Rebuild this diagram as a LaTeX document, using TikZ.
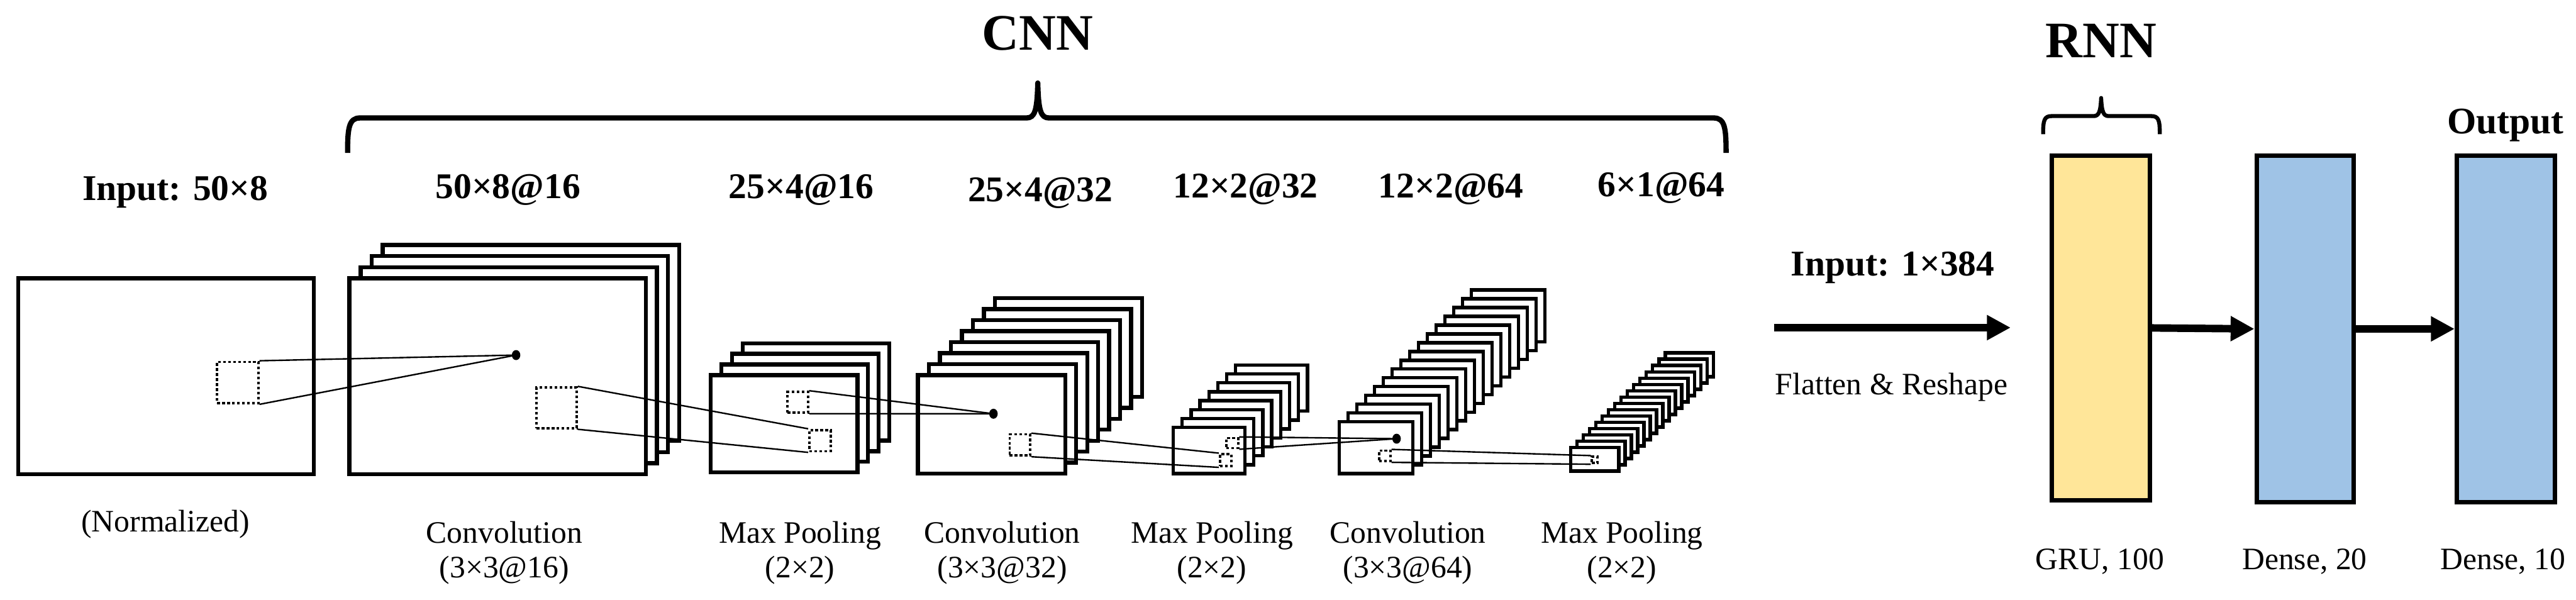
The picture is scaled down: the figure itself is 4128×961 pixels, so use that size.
\documentclass[tikz,border=0pt]{standalone}
\usepackage{fontspec}
\setmainfont{Liberation Serif}
\newfontfamily\tnr{Liberation Serif}
\usetikzlibrary{fit,arrows.meta,calc}
\definecolor{gruyellow}{RGB}{255,230,153}
\definecolor{denseblue}{RGB}{159,195,230}
\tikzset{
  layer/.style={draw=black, fill=white, line width=1.6pt, inner sep=0pt},
  slayer/.style={draw=black, fill=white, line width=1.35pt, inner sep=0pt},
  dbox/.style={draw=black, line width=0.95pt, dash pattern=on 1.1pt off 0.9pt, inner sep=0pt},
  dotnode/.style={ellipse, fill=black, inner sep=0pt, minimum width=3.4pt, minimum height=4pt},
  conn/.style={draw=black, line width=0.6pt},
  bigarrow/.style={line width=3pt, -{Triangle[length=9.5pt,width=9.5pt]}},
  bracestyle/.style={line width=2.1pt, line cap=butt, line join=round},
  rbracestyle/.style={line width=1.6pt, line cap=butt, line join=round},
  titlelab/.style={font=\tnr\fontsize{20.5}{24}\selectfont\bfseries, anchor=base, inner sep=0pt},
  boldlab/.style={font=\tnr\fontsize{14.5}{17}\selectfont\bfseries, anchor=base, inner sep=0pt},
  lab/.style={font=\tnr\fontsize{12.5}{14}\selectfont, align=center, anchor=base, inner sep=0pt},
  rnnbox/.style={draw=black, line width=1.75pt, inner sep=0pt}
}
\usetikzlibrary{shapes.geometric}
% name, x1, y1, x2, y2, (layers-1), offset, style
\newcommand{\fmstack}[8]{%
  \foreach \k in {#6,...,1}{%
    \draw[#8] ({#2+\k*#7},{#3-\k*#7}) rectangle ({#4+\k*#7},{#5-\k*#7});
  }
  \node[#8, fit={(#2,#3) (#4,#5)}] (#1) {};
}
\begin{document}
\begin{tikzpicture}[x=0.25pt, y=-0.25pt]
\useasboundingbox (0,0) rectangle (4128,961);
\fill[white] (0,0) rectangle (4128,961);

% ---------------- CNN feature maps ----------------
\node[layer, fit={(29,446) (503,760)}] (input) {};
\fmstack{conv1}{560}{446}{1035}{760}{3}{17.8}{layer}
\fmstack{pool1}{1139}{601}{1374}{757}{3}{17}{layer}
\fmstack{conv2}{1471}{601}{1707}{759}{7}{17.6}{layer}
\fmstack{pool2}{1880}{685}{1995}{759}{7}{14.3}{slayer}
\fmstack{conv3}{2146}{676}{2264}{759}{15}{14.1}{slayer}
\fmstack{pool3}{2517}{717}{2594}{755}{15}{10.1}{slayer}

% receptive fields (dashed) and target points
\node[dbox, fit={(348,580) (414,646)}] (ib) {};
\node[dotnode] (d1) at (827,569) {};
\node[dbox, fit={(860,621) (924,686)}] (c1b) {};
\node[dbox, fit={(1262,628) (1295,661)}] (p1a) {};
\node[dbox, fit={(1297,689) (1331,723)}] (p1b) {};
\node[dotnode] (d2) at (1592,663) {};
\node[dbox, fit={(1618,696) (1651,730)}] (c2b) {};
\node[dbox, fit={(1965,702) (1984,718)}] (p2a) {};
\node[dbox, fit={(1955,728) (1973,747)}] (p2b) {};
\node[dotnode] (d3) at (2238,703) {};
\node[dbox, fit={(2210,722) (2228,739)}] (c3b) {};
\node[dbox, fit={(2551,732) (2560,742)}] (p3b) {};

% connectors
\draw[conn] (ib.north east) -- (d1.center);
\draw[conn] (ib.south east) -- (d1.center);
\draw[conn] (c1b.north east) -- (p1b.north west);
\draw[conn] (c1b.south east) -- (p1b.south west);
\draw[conn] (p1a.north east) -- (d2.center);
\draw[conn] (p1a.south east) -- (d2.center);
\draw[conn] (c2b.north east) -- (p2b.north west);
\draw[conn] (c2b.south east) -- (p2b.south west);
\draw[conn] (p2a.north east) -- (d3.center);
\draw[conn] (p2a.south east) -- (d3.center);
\draw[conn] (c3b.north east) -- (p3b.north west);
\draw[conn] (c3b.south east) -- (p3b.south west);

% ---------------- CNN brace and labels ----------------
\draw[bracestyle] (557,245) .. controls (557,205) and (559,189) .. (577,189) -- (1645,189)
  .. controls (1658,189) and (1662,178) .. (1663,133)
  .. controls (1664,178) and (1668,189) .. (1681,189) -- (2746,189)
  .. controls (2764,189) and (2766,205) .. (2766,245);
\node[titlelab] (cnn) at (1663,80) {CNN};

\node[boldlab] (tin) at (281,321) {Input: 50×8};
\node[boldlab] (t1) at (814,318) {50×8@16};
\node[boldlab] (t2) at (1284,318) {25×4@16};
\node[boldlab] (t3) at (1667,323) {25×4@32};
\node[boldlab] (t4) at (1996,317) {12×2@32};
\node[boldlab] (t5) at (2325,317) {12×2@64};
\node[boldlab] (t6) at (2662,315) {6×1@64};

\node[lab] (bin) at (265,852) {(Normalized)};
\node[lab] (b1) at (808,926) {Convolution\\(3×3@16)};
\node[lab] (b2) at (1282,926) {Max Pooling\\(2×2)};
\node[lab] (b3) at (1606,926) {Convolution\\(3×3@32)};
\node[lab] (b4) at (1942,926) {Max Pooling\\(2×2)};
\node[lab] (b5) at (2256,926) {Convolution\\(3×3@64)};
\node[lab] (b6) at (2599,926) {Max Pooling\\(2×2)};

% ---------------- Flatten ----------------
\coordinate (fa) at (2843,525);
\coordinate (fb) at (3222,525);
\draw[bigarrow] (fa) -- (fb);
\node[boldlab] (tin2) at (3033,442) {Input: 1×384};
\node[lab] (flat) at (3031,632) {Flatten \& Reshape};

% ---------------- RNN ----------------
\node[rnnbox, fill=gruyellow, fit={(3288,249) (3445,802)}] (gru) {};
\node[rnnbox, fill=denseblue, fit={(3616,249) (3772,805)}] (dense1) {};
\node[rnnbox, fill=denseblue, fit={(3937,249) (4094,805)}] (dense2) {};
\draw[bigarrow] (gru.east) -- (dense1.west);
\draw[bigarrow] (dense1.east) -- (dense2.west);

\draw[rbracestyle] (3274,215) .. controls (3274,192) and (3276,186) .. (3288,186) -- (3355,186)
  .. controls (3363,186) and (3366,180) .. (3367,157)
  .. controls (3368,180) and (3371,186) .. (3379,186) -- (3447,186)
  .. controls (3459,186) and (3461,192) .. (3461,215);
\node[titlelab] (rnn) at (3367,92) {RNN};
\node[boldlab, font=\tnr\fontsize{15}{18}\selectfont\bfseries] (out) at (4015,214) {Output};

\node[lab] (lgru) at (3365,913) {GRU, 100};
\node[lab] (ld1) at (3693,913) {Dense, 20};
\node[lab] (ld2) at (4011,913) {Dense, 10};
\end{tikzpicture}
\end{document}
